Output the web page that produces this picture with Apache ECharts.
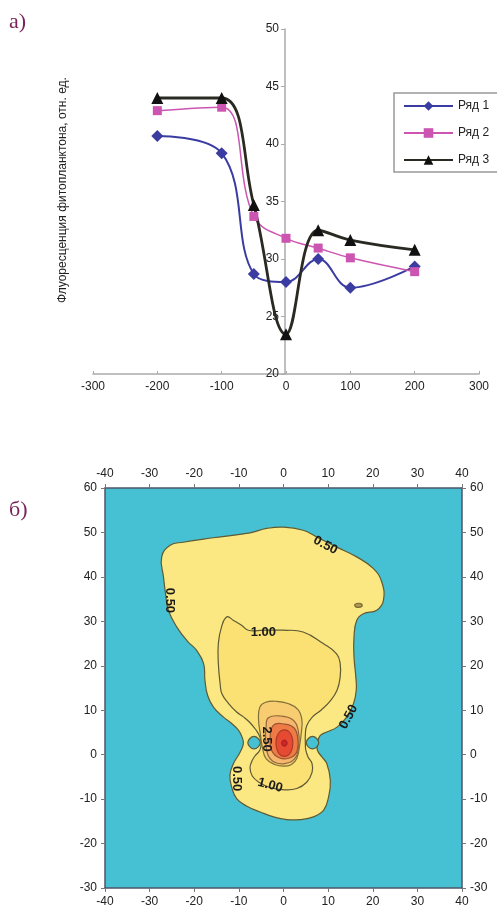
<!DOCTYPE html>
<html>
<head>
<meta charset="utf-8">
<script src="https://cdn.jsdelivr.net/npm/echarts@6/dist/echarts.min.js"></script>
<style>
  html, body { margin: 0; padding: 0; background: #fff; }
  #chart { width: 497px; height: 909px; }
</style>
</head>
<body>
<div id="chart"></div>
<script>
// --- верхний график (а) ---
const xPos = [-200, -100, -50, 0, 50, 100, 200];
const row1 = [40.7, 39.2, 28.7, 28.0, 30.0, 27.5, 29.35];
const row2 = [42.9, 43.2, 33.7, 31.8, 30.95, 30.1, 28.9];
const row3 = [44.0, 44.0, 34.7, 23.45, 32.5, 31.65, 30.8];
const rowNames = ["Ряд 1", "Ряд 2", "Ряд 3"];

// --- нижний график (б): изолинии в координатах осей ---
const iso050 = [[-27.3,44.5],[-25.4,47.1],[-22.5,47.8],[-15.7,48.8],[-7.5,49.9],[-3.8,50.9],[0.0,51.2],[4.4,50.5],[7.4,49.0],[11.9,46.7],[16.4,44.5],[20.1,41.9],[22.0,38.9],[22.4,34.7],[20.9,32.5],[17.9,31.7],[16.4,30.2],[15.8,26.5],[15.8,22.0],[16.2,17.5],[16.3,14.5],[15.7,11.5],[14.2,8.5],[12.0,6.2],[9.7,5.1],[8.2,4.3],[7.6,2.5],[7.6,1.0],[8.6,-0.5],[9.7,-2.0],[10.5,-5.8],[10.1,-9.5],[9.0,-12.5],[6.7,-14.0],[3.7,-14.6],[0.7,-14.6],[-2.2,-14.0],[-5.2,-12.9],[-8.2,-11.6],[-10.5,-9.9],[-11.6,-7.3],[-12.0,-4.6],[-11.2,-2.0],[-9.7,0.6],[-9.0,2.5],[-9.3,4.0],[-10.1,5.5],[-11.6,7.0],[-13.5,8.5],[-15.7,10.7],[-17.0,13.3],[-17.6,16.7],[-17.9,20.5],[-19.5,23.5],[-21.5,25.5],[-23.9,28.7],[-25.8,32.5],[-26.4,36.0],[-26.9,40.0]];
const iso100 = [[-7.9,28.0],[-9.4,29.1],[-11.2,30.2],[-12.7,31.0],[-13.9,28.7],[-14.6,25.0],[-14.6,20.5],[-14.2,16.0],[-13.8,13.7],[-12.3,11.5],[-10.5,9.6],[-9.0,8.5],[-7.6,7.3],[-6.2,5.6],[-5.3,4.0],[-5.0,2.5],[-5.3,1.0],[-6.4,-0.3],[-7.1,-1.5],[-7.5,-3.0],[-7.0,-4.8],[-5.5,-6.2],[-3.0,-7.4],[0.3,-7.9],[3.0,-7.6],[5.2,-6.2],[6.4,-4.0],[6.4,-2.0],[5.5,-0.5],[5.0,1.0],[4.9,2.5],[4.9,4.5],[5.2,6.5],[6.4,8.4],[8.4,10.0],[10.4,12.0],[12.0,14.5],[12.7,17.5],[12.7,20.5],[11.9,22.7],[8.9,25.0],[4.4,27.6],[0.0,28.0],[-4.5,28.0]];
const iso150 = [[-5.3,10.7],[-4.0,11.8],[-1.5,12.0],[1.0,11.5],[3.2,10.2],[4.1,8.0],[4.0,5.0],[3.6,2.0],[3.0,-0.8],[1.8,-2.2],[0.0,-2.6],[-2.0,-2.2],[-3.9,-0.9],[-4.7,1.5],[-5.2,4.7],[-5.6,8.0]];
const iso200 = [[-3.4,8.3],[-0.7,8.7],[2.0,7.9],[3.3,5.5],[3.4,2.0],[2.6,-0.8],[0.3,-2.0],[-2.0,-1.7],[-3.5,0.0],[-4.0,3.2],[-3.9,6.3]];
const iso250 = [[-2.3,6.6],[0.2,6.9],[2.4,6.0],[3.2,3.5],[2.9,0.5],[1.2,-0.8],[-1.0,-0.7],[-2.6,0.8],[-3.0,3.5]];
const iso300 = [[0.2,5.6],[1.6,4.7],[2.1,2.6],[1.6,0.5],[0.2,-0.4],[-1.2,0.5],[-1.7,2.6],[-1.2,4.7]];
const iso350 = [[0.2,3.3],[0.8,2.6],[0.2,1.9],[-0.4,2.6]];
const holeLeft = [[-6.6,4.1],[-5.2,2.7],[-6.6,1.3],[-8.0,2.7]];
const holeRight = [[6.5,4.1],[7.9,2.7],[6.5,1.3],[5.1,2.7]];
const speck = [[16.0,33.8],[17.3,34.0],[17.6,33.4],[16.3,33.2]];

const isoTexts = ["0.50", "0.50", "0.50", "0.50", "1.00", "1.00", "2.50"];
const isoTextX = [9.4, -25.6, 14.6, -10.6, -4.5, -3.0, -3.7];
const isoTextY = [47.1, 34.7, 8.5, -5.4, 27.6, -6.9, 3.5];
const isoTextAngle = [-28, -90, 62, -90, 0, -15, -90];

const layers = [
  { pts: iso050, fill: "#fce882", stroke: "#5e5a34" },
  { pts: speck, fill: "#b09850", stroke: "#7a6a38" },
  { pts: holeLeft, fill: "#45c1d3", stroke: "#5e5a34" },
  { pts: holeRight, fill: "#45c1d3", stroke: "#5e5a34" },
  { pts: iso100, fill: "#fbe074", stroke: "#5e5a34" },
  { pts: iso150, fill: "#f8cd72", stroke: "#7f7038" },
  { pts: iso200, fill: "#f6b66e", stroke: "#8f6a3a" },
  { pts: iso250, fill: "#ef7a46", stroke: "#9a5630" },
  { pts: iso300, fill: "#e74a32", stroke: "#aa3e28" },
  { pts: iso350, fill: "#d42428", stroke: "#aa2020" }
];

const chart = echarts.init(document.getElementById("chart"));
const font = "Liberation Sans, Arial, sans-serif";

const option = {
  backgroundColor: "#fff",
  animation: false,
  textStyle: { fontFamily: font },
  grid: [
    { left: 93, top: 29, width: 386, height: 345 },
    { left: 105, top: 488, width: 357, height: 400, show: true, backgroundColor: "#45c1d3", borderWidth: 0 }
  ],
  legend: {
    data: rowNames,
    orient: "vertical",
    left: 394,
    top: 93,
    width: 102,
    padding: [7, 40, 6, 9],
    itemWidth: 49,
    itemHeight: 12,
    itemGap: 15,
    borderColor: "#999",
    borderWidth: 1.5,
    textStyle: { fontSize: 12, color: "#222", fontFamily: font }
  },
  graphic: [
    { type: "text", left: 9, top: 11, style: { text: "а)", font: "22px 'Liberation Serif', serif", fill: "#7a2458" } },
    { type: "text", left: 9, top: 499, style: { text: "б)", font: "22px 'Liberation Serif', serif", fill: "#7a2458" } },
    {
      type: "text", x: 63, y: 190, rotation: Math.PI / 2,
      style: { text: "Флуоресценция фитопланктона, отн. ед.", font: "12px 'Liberation Sans', Arial", fill: "#222", align: "center", verticalAlign: "middle" }
    }
  ],
  xAxis: [
    {
      type: "value", gridIndex: 0, min: -300, max: 300, interval: 100,
      axisLine: { onZero: false, lineStyle: { color: "#aaa", width: 1.5 } },
      axisTick: { inside: true, length: 3, lineStyle: { color: "#aaa" } },
      axisLabel: { fontSize: 12, color: "#222", margin: 7 },
      splitLine: { show: false }
    },
    {
      type: "value", gridIndex: 1, min: -40, max: 40, interval: 10, position: "bottom",
      axisLine: { onZero: false, lineStyle: { color: "#4d5568", width: 1.5 } },
      axisTick: { length: 4, lineStyle: { color: "#777" } },
      axisLabel: { fontSize: 12, color: "#222", margin: 8 },
      splitLine: { show: false }
    },
    {
      type: "value", gridIndex: 1, min: -40, max: 40, interval: 10, position: "top",
      axisLine: { onZero: false, lineStyle: { color: "#4d5568", width: 1.5 } },
      axisTick: { length: 4, lineStyle: { color: "#777" } },
      axisLabel: { fontSize: 12, color: "#222", margin: 8 },
      splitLine: { show: false }
    }
  ],
  yAxis: [
    {
      type: "value", gridIndex: 0, min: 20, max: 50, interval: 5,
      position: "left", offset: -192,
      axisLine: { show: true, onZero: false, lineStyle: { color: "#aaa", width: 1.5 } },
      axisTick: { show: true, length: 4, lineStyle: { color: "#aaa" } },
      axisLabel: { fontSize: 12, color: "#222", margin: 6 },
      splitLine: { show: false }
    },
    {
      type: "value", gridIndex: 1, min: -30, max: 60, interval: 10, position: "left",
      axisLine: { show: true, onZero: false, lineStyle: { color: "#4d5568", width: 1.5 } },
      axisTick: { show: true, length: 4, lineStyle: { color: "#777" } },
      axisLabel: { fontSize: 12, color: "#222", margin: 8 },
      splitLine: { show: false }
    },
    {
      type: "value", gridIndex: 1, min: -30, max: 60, interval: 10, position: "right",
      axisLine: { show: true, onZero: false, lineStyle: { color: "#4d5568", width: 1.5 } },
      axisTick: { show: true, length: 4, lineStyle: { color: "#777" } },
      axisLabel: { fontSize: 12, color: "#222", margin: 8 },
      splitLine: { show: false }
    }
  ],
  series: [
    {
      name: rowNames[0], type: "line", xAxisIndex: 0, yAxisIndex: 0, smooth: 0.4,
      data: xPos.map((x, i) => [x, row1[i]]),
      symbol: "diamond", symbolSize: 12,
      itemStyle: { color: "#3a3ca2" }, lineStyle: { color: "#3a3ca2", width: 2 }
    },
    {
      name: rowNames[1], type: "line", xAxisIndex: 0, yAxisIndex: 0, smooth: 0.4,
      data: xPos.map((x, i) => [x, row2[i]]),
      symbol: "rect", symbolSize: 9,
      itemStyle: { color: "#cc55b2" }, lineStyle: { color: "#cc55b2", width: 1.5 }
    },
    {
      name: rowNames[2], type: "line", xAxisIndex: 0, yAxisIndex: 0, smooth: 0.4,
      data: xPos.map((x, i) => [x, row3[i]]),
      symbol: "triangle", symbolSize: 12,
      itemStyle: { color: "#111" }, lineStyle: { color: "#2a2a22", width: 2.8 }
    },
    {
      type: "custom", xAxisIndex: 1, yAxisIndex: 1, silent: true,
      data: layers.map((l, i) => [i]),
      renderItem: (params, api) => {
        const l = layers[params.dataIndex];
        return {
          type: "polygon",
          shape: { points: l.pts.map(p => api.coord(p)), smooth: 0.45 },
          style: { fill: l.fill, stroke: l.stroke, lineWidth: 1.2 }
        };
      }
    },
    {
      type: "custom", xAxisIndex: 1, yAxisIndex: 1, silent: true,
      data: isoTexts.map((t, i) => [isoTextX[i], isoTextY[i]]),
      renderItem: (params, api) => {
        const i = params.dataIndex;
        const p = api.coord([isoTextX[i], isoTextY[i]]);
        return {
          type: "text",
          x: p[0], y: p[1],
          rotation: isoTextAngle[i] * Math.PI / 180,
          style: {
            text: isoTexts[i], fill: "#1a1a1a",
            font: "bold 13px 'Liberation Sans', Arial",
            align: "center", verticalAlign: "middle"
          }
        };
      }
    }
  ]
};

chart.setOption(option);
</script>
</body>
</html>
